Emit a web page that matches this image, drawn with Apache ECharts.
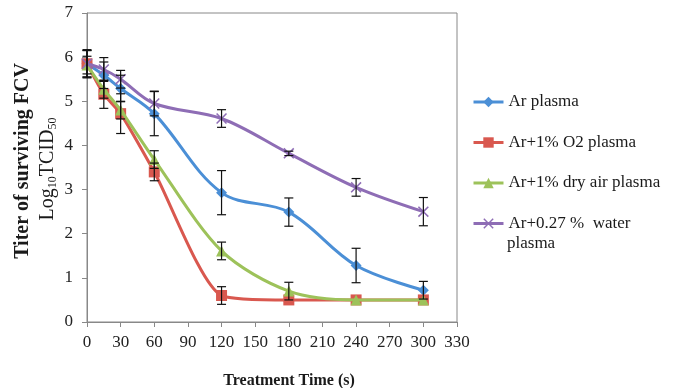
<!DOCTYPE html>
<html><head><meta charset="utf-8">
<script src="https://cdn.jsdelivr.net/npm/echarts@6/dist/echarts.min.js"></script>
<style>html,body{margin:0;padding:0;background:#fff}#c{width:683px;height:388px}</style>
</head><body><div id="c"></div>
<script>
var times = [0, 15, 30, 60, 120, 180, 240, 300];
var xTicks = [0, 30, 60, 90, 120, 150, 180, 210, 240, 270, 300, 330];
var yTicks = [0, 1, 2, 3, 4, 5, 6, 7];
var seriesNames = ['Ar plasma', 'Ar+1% O2 plasma', 'Ar+1% dry air plasma', 'Ar+0.27 %  water plasma'];
var arPlasma   = [5.85, 5.59, 5.29, 4.72, 2.93, 2.49, 1.28, 0.72];
var o2Plasma   = [5.85, 5.16, 4.72, 3.40, 0.60, 0.50, 0.50, 0.50];
var airPlasma  = [5.82, 5.27, 4.80, 3.68, 1.61, 0.70, 0.50, 0.50];
var waterPlasma= [5.85, 5.72, 5.50, 4.95, 4.61, 3.82, 3.05, 2.50];
var arErr    = [0.32, 0.30, 0.30, 0.50, 0.50, 0.32, 0.39, 0.20];
var o2Err    = [0.30, 0.32, 0.45, 0.20, 0.20, 0, 0, 0];
var airErr   = [0.20, 0.20, 0.20, 0.20, 0.20, 0.20, 0, 0];
var waterErr = [0.30, 0.27, 0.20, 0.28, 0.20, 0.05, 0.20, 0.32];

var colors = ['#4B8FD6', '#D9584F', '#9DC25A', '#8E6DB5'];
var values = [arPlasma, o2Plasma, airPlasma, waterPlasma];
var errs = [arErr, o2Err, airErr, waterErr];
var symbols = ['diamond', 'rect', 'triangle',
  'path://M0,1 L1,0 L5,4 L9,0 L10,1 L6,5 L10,9 L9,10 L5,6 L1,10 L0,9 L4,5 Z'];
var symSizes = [11, 11, 11, 11];
var smoothness = [0.35, 0.22, 0.3, 0.35];
var serif = '"Liberation Serif", "Times New Roman", serif';

var series = [];
values.forEach(function (v, i) {
  series.push({
    name: seriesNames[i], type: 'line', smooth: smoothness[i],
    data: times.map(function (t, k) { return [t, v[k]]; }),
    symbol: symbols[i], symbolSize: symSizes[i], showSymbol: true,
    lineStyle: { color: colors[i], width: 3 },
    itemStyle: { color: colors[i] },
    z: 2 + i
  });
});
values.forEach(function (v, i) {
  series.push({
    type: 'custom', name: 'err' + i, z: 10,
    data: times.map(function (t, k) { return [t, v[k], errs[i][k]]; }),
    renderItem: function (params, api) {
      var x = api.value(0), y = api.value(1), e = api.value(2);
      if (!e) return null;
      var top = api.coord([x, y + e]), bot = api.coord([x, y - e]);
      var w = 4.5;
      return { type: 'group', children: [
        { type: 'line', shape: { x1: top[0], y1: top[1], x2: bot[0], y2: bot[1] }, style: { stroke: '#111', lineWidth: 1.2 } },
        { type: 'line', shape: { x1: top[0] - w, y1: top[1], x2: top[0] + w, y2: top[1] }, style: { stroke: '#111', lineWidth: 1.2 } },
        { type: 'line', shape: { x1: bot[0] - w, y1: bot[1], x2: bot[0] + w, y2: bot[1] }, style: { stroke: '#111', lineWidth: 1.2 } }
      ]};
    },
    silent: true, tooltip: { show: false }
  });
});

var chart = echarts.init(document.getElementById('c'), null, { renderer: 'canvas' });
chart.setOption({
  animation: false,
  color: colors,
  grid: { left: 87, right: 226, top: 13, bottom: 66, show: true, borderColor: '#888', borderWidth: 1, backgroundColor: 'transparent' },
  legend: {
    data: seriesNames, orient: 'vertical', left: 467, top: 87,
    itemWidth: 30, itemHeight: 13, itemGap: 20.5,
    lineStyle: { width: 3 },
    textStyle: { fontFamily: serif, fontSize: 17, color: '#1a1a1a', lineHeight: 20 },
    formatter: function (n) { return n === seriesNames[3] ? 'Ar+0.27 %  water' : n; }
  },
  xAxis: {
    type: 'value', min: xTicks[0], max: xTicks[xTicks.length - 1], interval: 30,
    axisLine: { show: true, lineStyle: { color: '#888' } },
    axisTick: { show: true, length: 5, lineStyle: { color: '#888' } },
    splitLine: { show: false },
    axisLabel: { fontFamily: serif, fontSize: 17, color: '#222', margin: 12 }
  },
  yAxis: {
    type: 'value', min: yTicks[0], max: yTicks[yTicks.length - 1], interval: 1,
    axisLine: { show: true, lineStyle: { color: '#888' } },
    axisTick: { show: true, length: 5, lineStyle: { color: '#888' } },
    splitLine: { show: false },
    axisLabel: { fontFamily: serif, fontSize: 17, color: '#222', margin: 14 }
  },
  graphic: [
    { type: 'text', x: 289, y: 381, style: { text: 'Treatment Time (s)', fontFamily: serif, fontSize: 16, fontWeight: 'bold', fill: '#1a1a1a', textAlign: 'center', textVerticalAlign: 'middle' } },
    { type: 'text', x: 23, y: 161, rotation: Math.PI / 2, style: { text: 'Titer of surviving FCV', fontFamily: serif, fontSize: 20, fontWeight: 'bold', fill: '#1a1a1a', textAlign: 'center', textVerticalAlign: 'middle' } },
    { type: 'text', x: 48, y: 169, rotation: Math.PI / 2, style: {
        text: '{a|Log}{s|10}{a|TCID}{s|50}', textAlign: 'center', textVerticalAlign: 'middle',
        rich: {
          a: { fontFamily: serif, fontSize: 20, fill: '#1a1a1a', color: '#1a1a1a', lineHeight: 22 },
          s: { fontFamily: serif, fontSize: 12, fill: '#1a1a1a', color: '#1a1a1a', lineHeight: 6, verticalAlign: 'bottom' }
        } } },
    { type: 'text', x: 507, y: 244, style: { text: 'plasma', fontFamily: serif, fontSize: 17, fill: '#1a1a1a', textAlign: 'left', textVerticalAlign: 'middle' } }
  ],
  series: series
});
</script></body></html>
